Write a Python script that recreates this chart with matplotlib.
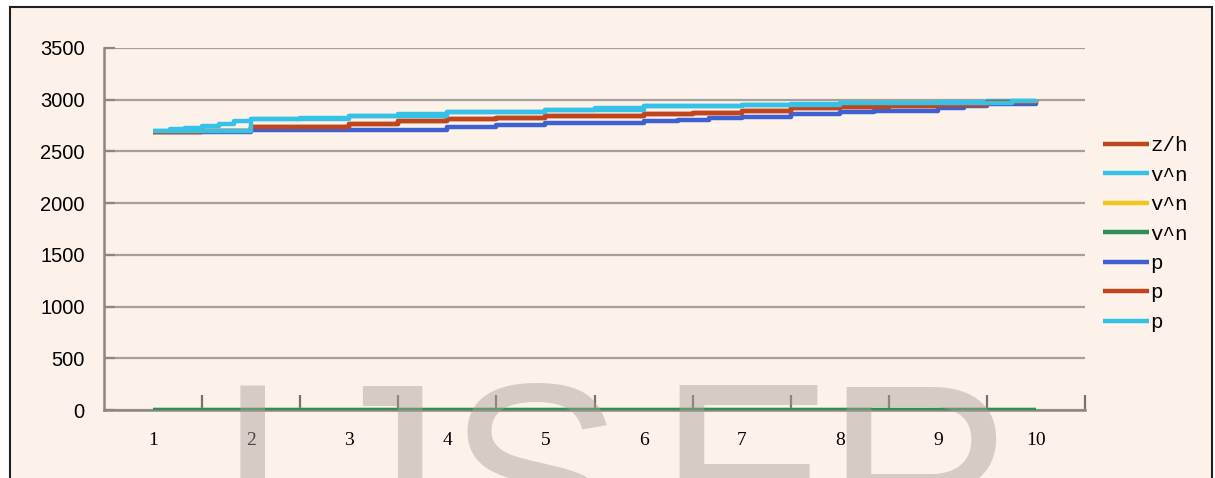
import matplotlib.pyplot as plt
from matplotlib.patches import Rectangle

# category positions 1..10, the series are stepped between them
categories = [str(i) for i in range(1, 11)]

zh_x = [1, 1.5, 2, 2.5, 3, 3.5, 4, 4.5, 5, 6, 6.5, 7, 7.5, 8, 8.5, 9, 9.5, 10]
zh_y = [2690, 2700, 2735, 2740, 2765, 2790, 2810, 2828, 2847, 2863, 2876, 2895, 2918, 2933, 2940, 2950, 2975, 3000]

vn1_x = [1, 1.17, 1.33, 1.5, 1.67, 1.83, 2, 2.5, 3, 3.5, 4, 4.5, 5, 5.5, 6, 7, 7.5, 8, 9, 9.5, 10]
vn1_y = [2700, 2715, 2730, 2750, 2770, 2795, 2815, 2820, 2845, 2865, 2880, 2885, 2900, 2918, 2940, 2953, 2960, 2972, 2978, 2985, 3000]

vn2_x = [1, 10]
vn2_y = [0, 0]

vn3_x = [1, 10]
vn3_y = [0, 0]

p1_x = [1, 2, 4, 4.5, 5, 6, 6.35, 6.67, 7, 7.5, 8, 8.35, 9, 9.27, 9.5, 10]
p1_y = [2690, 2705, 2735, 2756, 2773, 2790, 2805, 2821, 2837, 2863, 2879, 2895, 2918, 2935, 2960, 3000]

p2_x = zh_x
p2_y = zh_y

p3_x = [1, 2, 3, 4, 5, 6, 7, 8, 9, 9.5, 9.76, 10]
p3_y = [2700, 2815, 2845, 2880, 2900, 2940, 2953, 2972, 2972, 2965, 2990, 3000]

series = [
    ("z/h", zh_x, zh_y, "#C0441C"),
    ("v^n", vn1_x, vn1_y, "#35C2E6"),
    ("v^n", vn2_x, vn2_y, "#F2C41C"),
    ("v^n", vn3_x, vn3_y, "#2F8F5B"),
    ("p", p1_x, p1_y, "#3F60D2"),
    ("p", p2_x, p2_y, "#C0441C"),
    ("p", p3_x, p3_y, "#35C2E6"),
]

# watermark letters and their centres (pixels from the left)
wm_letters = ["I", "J", "S", "E", "R"]
wm_centres = [252, 376, 535, 745, 920]

bg = "#FCF2EA"
grid = "#A6A09C"

fig = plt.figure(figsize=(12.15, 4.78), dpi=100, facecolor="white")
fig.patches.append(Rectangle((10 / 1215, -0.05), 1202 / 1215, 1.05 - 7 / 478,
                             transform=fig.transFigure, facecolor=bg,
                             edgecolor="#202020", linewidth=1.5, zorder=-5))

ax = fig.add_axes([104 / 1215, 1 - 410 / 478, 981 / 1215, 362 / 478])
ax.patch.set_visible(False)

for label, x, y, color in series:
    ax.step(x, y, where="post", color=color, linewidth=3.2,
            solid_capstyle="butt", label=label, zorder=3)

ax.set_xlim(0.5, 10.5)
ax.set_ylim(0, 3500)
ax.set_yticks(range(0, 3501, 500))
ax.grid(axis="y", color=grid, linewidth=1.6, zorder=1)
ax.set_axisbelow(True)

for s in ["top", "right"]:
    ax.spines[s].set_visible(False)
for s in ["left", "bottom"]:
    ax.spines[s].set_color("#8C8784")
    ax.spines[s].set_linewidth(1.8)

ax.set_xticks([1.5 + i for i in range(10)])
ax.set_xticklabels([])
ax.tick_params(axis="x", which="major", direction="in", length=11,
               width=1.6, color="#77726F")
ax.set_xticks(range(1, 11), minor=True)
ax.set_xticklabels(categories, minor=True, fontfamily="Liberation Serif",
                   fontsize=14)
ax.tick_params(axis="x", which="minor", length=0, pad=16)
ax.tick_params(axis="y", direction="in", length=8, width=1.6,
               color="#8C8784", pad=14, labelsize=14.5)
for t in ax.get_yticklabels():
    t.set_fontfamily("Liberation Sans")

fig.legend(loc="upper left", bbox_to_anchor=(1095 / 1215, 1 - 128 / 478),
           frameon=False, handlelength=2.2, handletextpad=0.05,
           labelspacing=0.5, borderaxespad=0,
           prop={"family": "Liberation Mono", "size": 15})

for letter, cx in zip(wm_letters, wm_centres):
    fig.text(cx / 1215, 1 - 567 / 478, letter, fontsize=190,
             fontfamily="Liberation Sans", color="#A89F98", alpha=0.45,
             ha="center", va="baseline", zorder=10)

fig.savefig("out.png", dpi=100, facecolor="white")
